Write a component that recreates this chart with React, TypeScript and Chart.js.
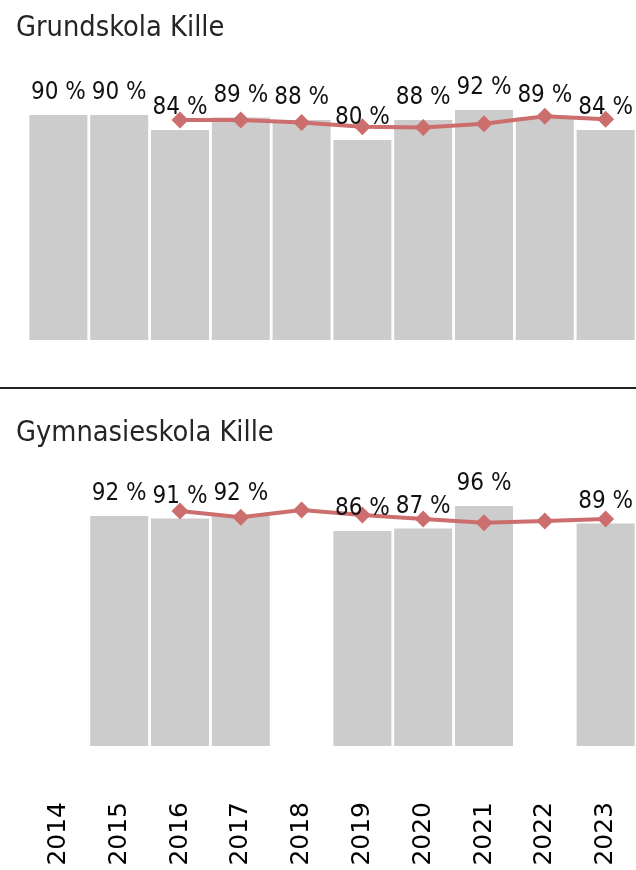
import React, { useEffect, useRef } from 'react';
import { Chart, registerables } from 'chart.js';

Chart.register(...registerables);

const years = ['2014', '2015', '2016', '2017', '2018', '2019', '2020', '2021', '2022', '2023'];
const grundBars = [90, 90, 84, 89, 88, 80, 88, 92, 89, 84];
const grundLine = [null, null, 88, 88, 87, 85.3, 85, 86.5, 89.5, 88.3];
const gymBars = [null, 92, 91, 92, null, 86, 87, 96, null, 89];
const gymLine = [null, null, 94, 91.5, 94.4, 92.4, 90.8, 89.3, 90, 90.8];

const titleTop = 'Grundskola Kille';
const titleBottom = 'Gymnasieskola Kille';

const BAR_COLOR = '#cccccc';
const LINE_COLOR = '#cd6e6e';
const LABEL_FONT = '24px "DejaVu Sans Condensed", "DejaVu Sans", sans-serif';
const TITLE_FONT = '28.7px "DejaVu Sans Condensed", "DejaVu Sans", sans-serif';

const valueLabelPlugin = {
  id: 'valueLabels',
  afterDatasetsDraw(chart: any) {
    const ctx = chart.ctx;
    const ds = chart.data.datasets.findIndex((d: any) => d.type === 'bar');
    const meta = chart.getDatasetMeta(ds);
    const data = chart.data.datasets[ds].data;
    ctx.save();
    ctx.font = LABEL_FONT;
    ctx.fillStyle = '#111111';
    ctx.textAlign = 'center';
    ctx.textBaseline = 'alphabetic';
    meta.data.forEach((el: any, i: number) => {
      const v = data[i];
      if (v == null) return;
      ctx.fillText(`${Math.round(v)} %`, el.x, el.y - 16);
    });
    ctx.restore();
  },
};

const panelTitlePlugin = {
  id: 'panelTitle',
  afterDraw(chart: any, _args: any, opts: any) {
    if (!opts || !opts.text) return;
    const ctx = chart.ctx;
    ctx.save();
    ctx.font = TITLE_FONT;
    ctx.fillStyle = '#252525';
    ctx.textAlign = 'left';
    ctx.textBaseline = 'alphabetic';
    ctx.fillText(opts.text, 16, opts.y);
    ctx.restore();
  },
};

function makeConfig(bars: any[], line: any[], title: string, titleY: number, padTop: number, showX: boolean, padBottom: number) {
  return {
    type: 'bar' as const,
    data: {
      labels: years,
      datasets: [
        {
          type: 'line' as const,
          data: line,
          borderColor: LINE_COLOR,
          backgroundColor: LINE_COLOR,
          borderWidth: 4,
          tension: 0,
          pointStyle: 'rectRot',
          pointRadius: 8.5,
          pointHoverRadius: 8.5,
          pointBackgroundColor: LINE_COLOR,
          pointBorderWidth: 0,
          spanGaps: false,
          clip: false,
          order: 0,
        },
        {
          type: 'bar' as const,
          data: bars,
          backgroundColor: BAR_COLOR,
          borderWidth: 0,
          barPercentage: 0.954,
          categoryPercentage: 1,
          order: 1,
        },
      ],
    },
    options: {
      responsive: false,
      animation: false as const,
      layout: { autoPadding: false, padding: { left: 28, right: 0, top: padTop, bottom: padBottom } },
      plugins: {
        legend: { display: false },
        tooltip: { enabled: false },
        panelTitle: { text: title, y: titleY },
      },
      scales: {
        x: {
          display: showX,
          grid: { display: false },
          border: { display: false },
          ticks: {
            autoSkip: false,
            minRotation: 90,
            maxRotation: 90,
            padding: 48,
            color: '#000000',
            font: { family: '"DejaVu Sans", sans-serif', size: 25 },
          },
          afterFit(scale: any) {
            scale.paddingLeft = 0;
            scale.paddingRight = 0;
            if (showX) scale.height = 124;
          },
        },
        y: {
          display: false,
          min: 0,
          max: 100,
        },
      },
    },
    plugins: [valueLabelPlugin, panelTitlePlugin],
  };
}

export default function App() {
  const ref1 = useRef<HTMLCanvasElement>(null);
  const ref2 = useRef<HTMLCanvasElement>(null);

  useEffect(() => {
    const c1 = new Chart(ref1.current as HTMLCanvasElement, makeConfig(grundBars, grundLine, titleTop, 36, 90, false, 5) as any);
    const c2 = new Chart(ref2.current as HTMLCanvasElement, makeConfig(gymBars, gymLine, titleBottom, 51, 106, true, 0) as any);
    return () => {
      c1.destroy();
      c2.destroy();
    };
  }, []);

  return (
    <div style={{ position: 'absolute', left: 0, top: 0, width: 636, height: 870, background: '#ffffff', overflow: 'hidden' }}>
      <canvas ref={ref1} width={636} height={345} style={{ position: 'absolute', left: 0, top: 0, width: 636, height: 345 }} />
      <div style={{ position: 'absolute', left: 0, top: 387, width: 636, height: 2, background: '#222222' }} />
      <canvas ref={ref2} width={636} height={480} style={{ position: 'absolute', left: 0, top: 390, width: 636, height: 480 }} />
    </div>
  );
}
